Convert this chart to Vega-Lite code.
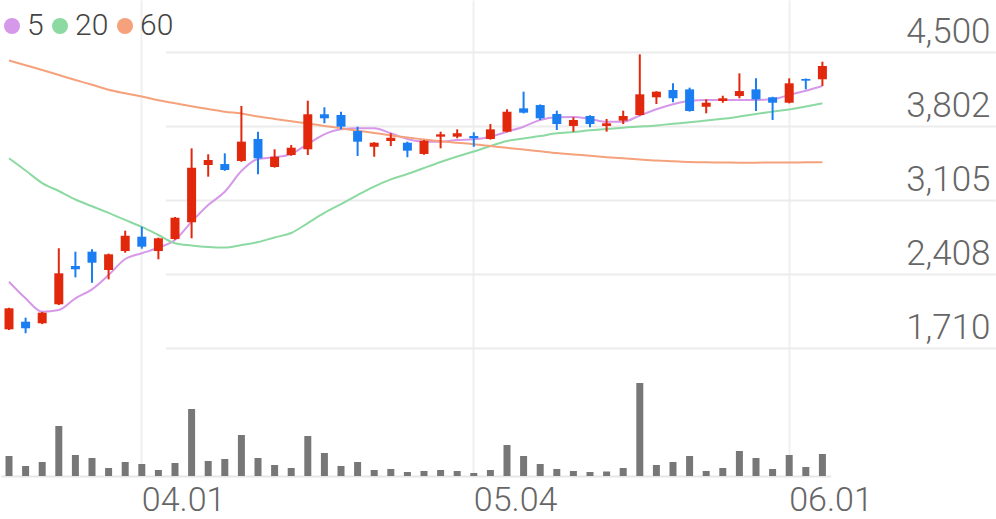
{
  "$schema": "https://vega.github.io/schema/vega-lite/v6.json",
  "width": 996,
  "height": 476,
  "autosize": {"type": "none"},
  "padding": {"left": 0, "top": 0, "right": 0, "bottom": 43},
  "background": "white",
  "config": {
    "view": {"stroke": null},
    "font": "Roboto",
    "axis": {"labelFont": "Roboto", "labelFontWeight": 300, "labelColor": "#666666", "title": null}
  },
  "data": {
    "values": [
      {"d": "03.20", "o": 1886, "h": 2090, "l": 1880, "c": 2084, "vol": 600, "ma5": 2335, "ma20": 3498, "ma60": 4420},
      {"d": "03.23", "o": 1958, "h": 1996, "l": 1849, "c": 1896, "vol": 300, "ma5": 2178, "ma20": 3383, "ma60": 4375},
      {"d": "03.24", "o": 1943, "h": 2050, "l": 1935, "c": 2043, "vol": 420, "ma5": 2052, "ma20": 3265, "ma60": 4330},
      {"d": "03.25", "o": 2122, "h": 2650, "l": 2115, "c": 2414, "vol": 1500, "ma5": 2068, "ma20": 3190, "ma60": 4283},
      {"d": "03.26", "o": 2483, "h": 2618, "l": 2376, "c": 2452, "vol": 630, "ma5": 2178, "ma20": 3110, "ma60": 4236},
      {"d": "03.27", "o": 2618, "h": 2640, "l": 2325, "c": 2514, "vol": 540, "ma5": 2263, "ma20": 3046, "ma60": 4192},
      {"d": "03.30", "o": 2445, "h": 2600, "l": 2357, "c": 2593, "vol": 240, "ma5": 2398, "ma20": 2983, "ma60": 4145},
      {"d": "03.31", "o": 2624, "h": 2816, "l": 2608, "c": 2768, "vol": 420, "ma5": 2549, "ma20": 2917, "ma60": 4111},
      {"d": "04.01", "o": 2759, "h": 2853, "l": 2646, "c": 2665, "vol": 360, "ma5": 2603, "ma20": 2851, "ma60": 4081},
      {"d": "04.02", "o": 2624, "h": 2750, "l": 2546, "c": 2744, "vol": 180, "ma5": 2655, "ma20": 2775, "ma60": 4045},
      {"d": "04.03", "o": 2737, "h": 2945, "l": 2730, "c": 2938, "vol": 390, "ma5": 2728, "ma20": 2697, "ma60": 4017},
      {"d": "04.06", "o": 2895, "h": 3592, "l": 2744, "c": 3409, "vol": 2010, "ma5": 2900, "ma20": 2676, "ma60": 3988},
      {"d": "04.07", "o": 3435, "h": 3536, "l": 3325, "c": 3482, "vol": 450, "ma5": 3058, "ma20": 2662, "ma60": 3963},
      {"d": "04.08", "o": 3444, "h": 3545, "l": 3380, "c": 3388, "vol": 510, "ma5": 3183, "ma20": 2657, "ma60": 3937},
      {"d": "04.09", "o": 3473, "h": 3991, "l": 3465, "c": 3655, "vol": 1230, "ma5": 3378, "ma20": 2681, "ma60": 3920},
      {"d": "04.10", "o": 3680, "h": 3749, "l": 3347, "c": 3498, "vol": 540, "ma5": 3491, "ma20": 2709, "ma60": 3892},
      {"d": "04.13", "o": 3416, "h": 3583, "l": 3410, "c": 3513, "vol": 330, "ma5": 3507, "ma20": 2752, "ma60": 3869},
      {"d": "04.14", "o": 3529, "h": 3623, "l": 3522, "c": 3598, "vol": 240, "ma5": 3539, "ma20": 2794, "ma60": 3847},
      {"d": "04.16", "o": 3583, "h": 4041, "l": 3529, "c": 3913, "vol": 1200, "ma5": 3633, "ma20": 2888, "ma60": 3826},
      {"d": "04.17", "o": 3913, "h": 3979, "l": 3828, "c": 3875, "vol": 690, "ma5": 3724, "ma20": 2983, "ma60": 3803},
      {"d": "04.20", "o": 3906, "h": 3937, "l": 3771, "c": 3796, "vol": 300, "ma5": 3771, "ma20": 3067, "ma60": 3781},
      {"d": "04.21", "o": 3755, "h": 3796, "l": 3520, "c": 3655, "vol": 420, "ma5": 3781, "ma20": 3152, "ma60": 3758},
      {"d": "04.22", "o": 3607, "h": 3650, "l": 3513, "c": 3645, "vol": 180, "ma5": 3781, "ma20": 3232, "ma60": 3737},
      {"d": "04.23", "o": 3661, "h": 3734, "l": 3614, "c": 3692, "vol": 210, "ma5": 3734, "ma20": 3300, "ma60": 3714},
      {"d": "04.24", "o": 3645, "h": 3655, "l": 3508, "c": 3570, "vol": 120, "ma5": 3680, "ma20": 3350, "ma60": 3694},
      {"d": "04.27", "o": 3539, "h": 3670, "l": 3532, "c": 3664, "vol": 150, "ma5": 3655, "ma20": 3407, "ma60": 3676},
      {"d": "04.28", "o": 3702, "h": 3749, "l": 3592, "c": 3724, "vol": 180, "ma5": 3655, "ma20": 3463, "ma60": 3658},
      {"d": "04.29", "o": 3702, "h": 3771, "l": 3687, "c": 3734, "vol": 150, "ma5": 3671, "ma20": 3515, "ma60": 3644},
      {"d": "05.04", "o": 3708, "h": 3743, "l": 3607, "c": 3687, "vol": 90, "ma5": 3677, "ma20": 3562, "ma60": 3631},
      {"d": "05.06", "o": 3680, "h": 3821, "l": 3674, "c": 3771, "vol": 180, "ma5": 3702, "ma20": 3614, "ma60": 3614},
      {"d": "05.07", "o": 3749, "h": 3960, "l": 3743, "c": 3937, "vol": 930, "ma5": 3749, "ma20": 3661, "ma60": 3597},
      {"d": "05.08", "o": 3969, "h": 4126, "l": 3921, "c": 3928, "vol": 600, "ma5": 3796, "ma20": 3685, "ma60": 3580},
      {"d": "05.11", "o": 4000, "h": 4006, "l": 3859, "c": 3875, "vol": 360, "ma5": 3859, "ma20": 3708, "ma60": 3564},
      {"d": "05.12", "o": 3916, "h": 3947, "l": 3765, "c": 3821, "vol": 210, "ma5": 3885, "ma20": 3734, "ma60": 3548},
      {"d": "05.13", "o": 3803, "h": 3885, "l": 3749, "c": 3859, "vol": 150, "ma5": 3887, "ma20": 3746, "ma60": 3535},
      {"d": "05.14", "o": 3897, "h": 3903, "l": 3790, "c": 3821, "vol": 120, "ma5": 3869, "ma20": 3762, "ma60": 3522},
      {"d": "05.15", "o": 3803, "h": 3869, "l": 3749, "c": 3828, "vol": 135, "ma5": 3843, "ma20": 3774, "ma60": 3509},
      {"d": "05.18", "o": 3853, "h": 3947, "l": 3821, "c": 3897, "vol": 240, "ma5": 3843, "ma20": 3787, "ma60": 3498},
      {"d": "05.19", "o": 3906, "h": 4478, "l": 3900, "c": 4101, "vol": 2790, "ma5": 3902, "ma20": 3797, "ma60": 3487},
      {"d": "05.20", "o": 4073, "h": 4130, "l": 4010, "c": 4126, "vol": 330, "ma5": 3960, "ma20": 3808, "ma60": 3477},
      {"d": "05.21", "o": 4142, "h": 4205, "l": 4026, "c": 4064, "vol": 420, "ma5": 4007, "ma20": 3823, "ma60": 3470},
      {"d": "05.22", "o": 4148, "h": 4164, "l": 3938, "c": 3944, "vol": 600, "ma5": 4041, "ma20": 3838, "ma60": 3463},
      {"d": "05.25", "o": 3984, "h": 4054, "l": 3922, "c": 4022, "vol": 150, "ma5": 4048, "ma20": 3854, "ma60": 3460},
      {"d": "05.26", "o": 4038, "h": 4088, "l": 4022, "c": 4064, "vol": 240, "ma5": 4048, "ma20": 3870, "ma60": 3459},
      {"d": "05.27", "o": 4085, "h": 4299, "l": 4064, "c": 4132, "vol": 750, "ma5": 4048, "ma20": 3892, "ma60": 3457},
      {"d": "05.28", "o": 4148, "h": 4252, "l": 3944, "c": 4054, "vol": 540, "ma5": 4048, "ma20": 3916, "ma60": 3457},
      {"d": "05.29", "o": 4073, "h": 4078, "l": 3859, "c": 4022, "vol": 210, "ma5": 4054, "ma20": 3938, "ma60": 3459},
      {"d": "06.01", "o": 4022, "h": 4252, "l": 4016, "c": 4205, "vol": 630, "ma5": 4095, "ma20": 3958, "ma60": 3459},
      {"d": "06.02", "o": 4246, "h": 4250, "l": 4148, "c": 4230, "vol": 270, "ma5": 4135, "ma20": 3986, "ma60": 3460},
      {"d": "06.03", "o": 4243, "h": 4409, "l": 4180, "c": 4368, "vol": 660, "ma5": 4180, "ma20": 4017, "ma60": 3461}
    ]
  },
  "encoding": {
    "x": {
      "field": "d",
      "type": "ordinal",
      "sort": null,
      "scale": {"type": "band", "paddingInner": 0, "paddingOuter": 0, "range": [0.7, 830.7]},
      "axis": {
        "orient": "bottom",
        "values": ["04.01", "05.04", "06.01"],
        "bandPosition": 0.5,
        "labelAngle": 0,
        "labelAlign": "left",
        "labelBaseline": "alphabetic",
        "labelPadding": 34,
        "labelFontSize": 34,
        "ticks": false,
        "domain": false,
        "grid": true,
        "gridColor": "#f0f0f0",
        "gridWidth": 2,
        "title": null
      }
    }
  },
  "layer": [
    {
      "mark": {"type": "bar", "color": "#777777", "size": 7},
      "encoding": {
        "y": {
          "field": "vol",
          "type": "quantitative",
          "scale": {"domain": [0, 14280], "nice": false, "zero": true},
          "axis": {"orient": "left", "values": [0], "labels": false, "ticks": false, "domain": false, "grid": true, "gridColor": "#e6e6e6", "gridWidth": 2, "title": null}
        }
      }
    },
    {
      "layer": [
        {
          "transform": [{"fold": ["ma5", "ma20", "ma60"], "as": ["ma", "v"]}],
          "mark": {"type": "line", "strokeWidth": 2, "interpolate": "monotone"},
          "encoding": {
            "y": {
              "field": "v",
              "type": "quantitative",
              "scale": {"domain": [503.5, 4990.2], "nice": false, "zero": false},
              "axis": {"orient": "right", "values": [1710, 2407.5, 3105, 3802.4, 4500], "format": ",.0f", "labelAlign": "right", "labelBaseline": "alphabetic", "labelPadding": -6, "labelOffset": -10, "labelFontSize": 35, "ticks": false, "domain": false, "grid": true, "gridColor": "#ececec", "gridWidth": 2, "title": null}
            },
            "color": {
              "field": "ma",
              "type": "nominal",
              "scale": {"domain": ["ma5", "ma20", "ma60"], "range": ["#d698e8", "#8cd9a2", "#f5a27c"]},
              "legend": {
                "orient": "none",
                "legendX": -3,
                "legendY": 11,
                "direction": "horizontal",
                "title": null,
                "symbolType": "circle",
                "symbolSize": 256,
                "symbolStrokeWidth": 0,
                "symbolOpacity": 1,
                "labelFontSize": 30,
                "labelFont": "Roboto",
                "labelFontWeight": 300,
                "labelColor": "#444444",
                "labelOffset": 0,
                "columnPadding": 1,
                "padding": 0,
                "labelExpr": "replace(datum.label, 'ma', '')",
                "encode": {"symbols": {"update": {"fill": {"scale": "color", "field": "value"}, "strokeWidth": {"value": 0}}}}
              }
            }
          }
        },
        {
          "mark": {"type": "rule", "strokeWidth": 2},
          "encoding": {
            "y": {
              "field": "l",
              "type": "quantitative",
              "axis": {"orient": "right", "values": [1710, 2407.5, 3105, 3802.4, 4500], "format": ",.0f", "labelAlign": "right", "labelBaseline": "alphabetic", "labelPadding": -6, "labelOffset": -10, "labelFontSize": 35, "ticks": false, "domain": false, "grid": true, "gridColor": "#ececec", "gridWidth": 2, "title": null}
            },
            "y2": {"field": "h"},
            "color": {"condition": {"test": "datum.c >= datum.o", "value": "#e2280c"}, "value": "#1a7ef2"}
          }
        },
        {
          "mark": {"type": "bar", "size": 9},
          "encoding": {
            "y": {
              "field": "o",
              "type": "quantitative",
              "axis": {"orient": "right", "values": [1710, 2407.5, 3105, 3802.4, 4500], "format": ",.0f", "labelAlign": "right", "labelBaseline": "alphabetic", "labelPadding": -6, "labelOffset": -10, "labelFontSize": 35, "ticks": false, "domain": false, "grid": true, "gridColor": "#ececec", "gridWidth": 2, "title": null}
            },
            "y2": {"field": "c"},
            "color": {"condition": {"test": "datum.c >= datum.o", "value": "#e2280c"}, "value": "#1a7ef2"}
          }
        }
      ]
    }
  ],
  "resolve": {"scale": {"y": "independent"}}
}
